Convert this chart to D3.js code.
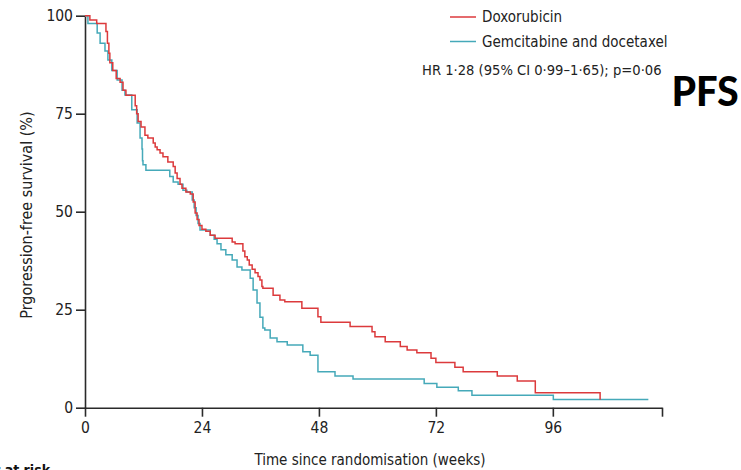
<!DOCTYPE html>
<html>
<head>
<meta charset="utf-8">
<script src="https://cdn.jsdelivr.net/npm/d3@7"></script>
<style>
  html, body { margin: 0; padding: 0; background: #fff; overflow: hidden; }
  svg { display: block; }
  .lbl { font-family: "Liberation Sans Narrow", "DejaVu Sans Condensed", "DejaVu Sans", sans-serif; fill: #222; }
</style>
</head>
<body>
<svg id="chart" width="741" height="470"></svg>
<script>
// Kaplan-Meier progression-free survival, step data (weeks, % surviving from that week on)
const doxTimes = [0, 1.0, 2.4, 4.3, 4.6, 4.9, 5.1, 5.7, 6.4, 7.2, 7.8, 8.4, 10.3, 10.6, 10.9, 11.5, 12.3, 12.9,
  14.0, 14.4, 14.8, 15.4, 16.0, 17.0, 18.1, 18.5, 18.9, 19.5, 19.9, 20.7, 21.6, 22.2, 22.6, 23.0, 23.4, 24.0,
  24.8, 25.7, 26.7, 30.2, 30.8, 32.4, 32.8, 33.3, 33.7, 34.3, 34.9, 35.5, 35.9, 36.3, 36.5, 38.6, 40.0, 41.0,
  44.5, 47.8, 48.4, 54.4, 58.9, 59.5, 61.6, 64.7, 66.1, 68.1, 71.0, 72.0, 75.9, 77.6, 84.6, 88.7, 92.4, 105.7];
const doxSurv = [100, 98.9, 98, 96, 93, 90.4, 88, 86, 84, 83, 81, 79.7, 77, 75, 73, 71.6, 69.5, 68.8,
  67.5, 66.5, 65.8, 65, 64, 62.7, 61.5, 59.9, 58.5, 57, 56, 55, 54.5, 52.5, 49.7, 48, 46.5, 45.5,
  45, 44, 43.2, 42.3, 41.8, 40, 38.5, 37.7, 36.4, 35.3, 34.4, 33.5, 32.6, 30.9, 30.5, 28.7, 27.5, 27,
  25.4, 23.2, 21.8, 20.7, 19.4, 18.1, 16.8, 15.6, 14.7, 14.0, 12.6, 11.5, 10.3, 9.2, 8.1, 6.8, 3.8, 2.0];

const gdTimes = [0, 0.6, 2.5, 3.1, 4.1, 4.7, 5.5, 6.6, 7.6, 8.2, 9.6, 10.7, 11.3, 11.7, 11.8, 11.9, 12.5,
  17.4, 18.1, 19.1, 20.1, 20.9, 22.0, 22.4, 22.8, 23.2, 23.6, 25.7, 26.5, 27.1, 27.9, 28.9, 30.2, 31.2, 32.2,
  33.9, 34.5, 35.3, 35.9, 36.5, 36.9, 38.0, 39.4, 41.5, 44.7, 46.2, 47.8, 51.3, 55.0, 69.6, 72.2, 76.6, 79.4,
  96.1, 115.6];
const gdSurv = [100, 98, 95.6, 93, 91, 88.7, 86, 83.6, 81, 79.8, 76, 72.6, 68.8, 66, 63, 62, 60.6,
  59, 57.6, 57, 55.5, 55, 53, 51, 49, 47, 45.3, 44, 43, 41.8, 40.3, 39, 37.7, 35.9, 35.1,
  33, 30, 26.7, 23.1, 20.3, 19.8, 17.8, 16.8, 16.0, 14.3, 13.4, 9.2, 8.1, 7.3, 6.2, 5.2, 4.3, 3.2,
  2.1, 2.1];

const seriesNames = ["Doxorubicin", "Gemcitabine and docetaxel"];
const seriesColors = ["#dc3a3c", "#45a9b9"];
const xTickValues = [0, 24, 48, 72, 96];
const xAxisEnd = 118.4;
const yTickValues = [0, 25, 50, 75, 100];
const statText = "HR 1·28 (95% CI 0·99–1·65); p=0·06";

const svg = d3.select("#chart");

const x = d3.scaleLinear().domain([0, xAxisEnd]).range([85, 662]);
const y = d3.scaleLinear().domain([0, 100]).range([407.7, 15.7]);

// Axes
const axisColor = "#2a2a2a";
const xAxis = d3.axisBottom(x)
  .tickValues(xTickValues.concat([xAxisEnd]))
  .tickFormat(d => xTickValues.includes(d) ? String(d) : "")
  .tickSize(9).tickSizeOuter(0).tickPadding(5);
const yAxis = d3.axisLeft(y)
  .tickValues(yTickValues)
  .tickSize(9).tickSizeOuter(0).tickPadding(3);

const gx = svg.append("g").attr("transform", `translate(0,${y(0)})`).call(xAxis);
const gy = svg.append("g").attr("transform", `translate(${x(0)},0)`).call(yAxis);
[gx, gy].forEach(g => {
  g.select(".domain").attr("stroke", axisColor).attr("stroke-width", 1.6);
  g.selectAll(".tick line").attr("stroke", axisColor).attr("stroke-width", 1.6);
  g.selectAll(".tick text").attr("class", "lbl").style("font-size", "15.5px").attr("fill", "#333");
});

// Survival curves
const line = d3.line().x(d => x(d[0])).y(d => y(d[1])).curve(d3.curveStepAfter);
const series = [
  d3.zip(doxTimes, doxSurv),
  d3.zip(gdTimes, gdSurv)
];
// draw gemcitabine first so doxorubicin sits on top where they overlap
[1, 0].forEach(i => {
  svg.append("path")
    .datum(series[i])
    .attr("d", line)
    .attr("fill", "none")
    .attr("stroke", seriesColors[i])
    .attr("stroke-width", 1.5)
    .attr("stroke-linejoin", "miter");
});

// Axis titles
svg.append("text").attr("class", "lbl")
  .attr("x", 370).attr("y", 465).attr("text-anchor", "middle")
  .style("font-size", "15px")
  .text("Time since randomisation (weeks)");
svg.append("text").attr("class", "lbl")
  .attr("transform", "translate(32,215) rotate(-90)").attr("text-anchor", "middle")
  .style("font-size", "16px")
  .text("Prgoression-free survival (%)");

// Legend
const legend = svg.append("g");
seriesNames.forEach((name, i) => {
  const ly = 17 + i * 24.5;
  legend.append("line")
    .attr("x1", 450).attr("x2", 476).attr("y1", ly).attr("y2", ly)
    .attr("stroke", seriesColors[i]).attr("stroke-width", 1.5);
  legend.append("text").attr("class", "lbl")
    .attr("x", 482).attr("y", ly + 5).style("font-size", "15px")
    .text(name);
});
legend.append("text").attr("class", "lbl")
  .attr("x", 422).attr("y", 75).style("font-size", "14.6px")
  .text(statText);

// Panel tag
svg.append("text")
  .attr("x", 672).attr("y", 106)
  .style("font-family", "Carlito, 'Open Sans', 'Liberation Sans', sans-serif")
  .style("font-weight", "bold").style("font-size", "46px").attr("fill", "#000")
  .text("PFS");

// Number-at-risk heading, partly below the page edge
svg.append("text")
  .attr("x", 50).attr("y", 475).attr("text-anchor", "end")
  .style("font-family", "'Liberation Sans Narrow', 'DejaVu Sans Condensed', sans-serif")
  .style("font-weight", "bold").style("font-size", "14px").attr("fill", "#111")
  .text("Number at risk");
</script>
</body>
</html>
